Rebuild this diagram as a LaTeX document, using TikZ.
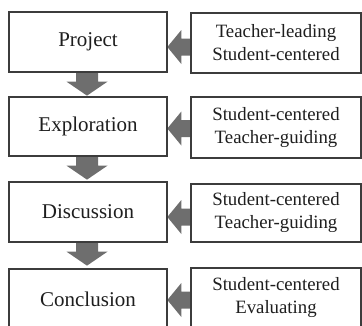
\documentclass[tikz,border=0pt]{standalone}
\usepackage{fontspec}
\setmainfont{Liberation Serif}
\usetikzlibrary{backgrounds}
\definecolor{edgegray}{HTML}{3C3C3C}
\definecolor{flowgray}{HTML}{6E6E6E}
\definecolor{inkgray}{HTML}{1E1E1E}
\tikzset{
  stage/.style={draw=edgegray, line width=1.3pt, fill=white,
    minimum width=158pt, minimum height=60pt, inner sep=0pt,
    text=inkgray, font=\fontsize{21}{25}\selectfont},
  role/.style={draw=edgegray, line width=1.3pt, fill=white,
    minimum width=170pt, minimum height=60pt, inner sep=0pt,
    align=center, text=inkgray, font=\fontsize{18.8}{23}\selectfont},
  flow/.style={fill=flowgray}
}
\begin{document}
\begin{tikzpicture}[x=1pt, y=1pt]
  \clip (0,0) rectangle (362,325);

  % teaching stages
  \node[stage] (s1) at (88,283)   {Project};
  \node[stage, minimum height=59pt] (s2) at (88,198.5) {Exploration};
  \node[stage] (s3) at (88,113)   {Discussion};
  \node[stage] (s4) at (88,26)    {Conclusion};

  % roles at each stage
  \node[role] (r1) at (276,282)   {Teacher-leading\\Student-centered};
  \node[role, minimum height=61pt] (r2) at (276,197.5) {Student-centered\\Teacher-guiding};
  \node[role, minimum height=58pt] (r3) at (276,112)   {Student-centered\\Teacher-guiding};
  \node[role] (r4) at (276,27)    {Student-centered\\Evaluating};

  \begin{pgfonlayer}{background}
    % block arrows from each role box into its stage
    \foreach \r/\dy in {r1/-4, r2/-1, r3/-4, r4/-2} {
      \fill[flow] ([yshift=\dy pt]\r.west) ++(0,8.5) -- ++(-9,0) -- ++(0,8.5)
        -- ++(-14,-17) -- ++(14,-17) -- ++(0,8.5) -- ++(9,0) -- cycle;
    }
    % block arrows down the sequence of stages
    \foreach \s in {s1, s2, s3} {
      \fill[flow] ([xshift=-1pt]\s.south) ++(-11,0) -- ++(0,-9) -- ++(-9.5,0)
        -- ++(20.5,-14) -- ++(20.5,14) -- ++(-9.5,0) -- ++(0,9) -- cycle;
    }
  \end{pgfonlayer}
\end{tikzpicture}
\end{document}
